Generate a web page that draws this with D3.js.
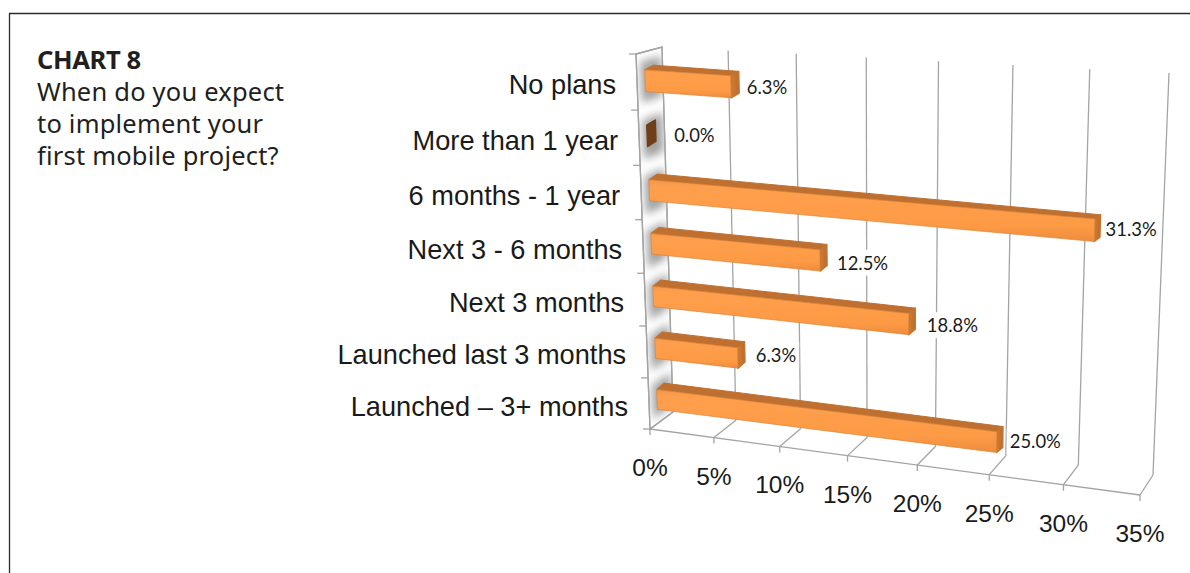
<!DOCTYPE html>
<html>
<head>
<meta charset="utf-8">
<script src="https://cdnjs.cloudflare.com/ajax/libs/d3/7.8.5/d3.min.js"></script>
<style>
  html, body { margin: 0; padding: 0; background: #fff; }
  svg { display: block; }
</style>
</head>
<body>
<svg id="chart" width="1190" height="573"></svg>
<script>
// Survey answers, top row first
const categories = ["No plans", "More than 1 year", "6 months - 1 year", "Next 3 - 6 months",
                    "Next 3 months", "Launched last 3 months", "Launched \u2013 3+ months"];
const shares = [6.3, 0.0, 31.3, 12.5, 18.8, 6.3, 25.0];
const axisTicks = [0, 5, 10, 15, 20, 25, 30, 35];
const titleLines = ["When do you expect", "to implement your", "first mobile project?"];

// Per-label placement beside the bar ends
const labelShift = [[16, 1], [27, 0], [11, 0], [17, 3], [18, 2], [18, -2], [13, 0]];

const valueUnit = d3.scaleLinear().domain([0, 35]).range([0, 1]);
const rowUnit = d3.scaleLinear().domain([0, categories.length]).range([0, 1]);

// Perspective mapping of the unit square onto a quadrilateral [tl, tr, br, bl]
function perspective([p0, p1, p2, p3]) {
  const dx1 = p1[0] - p2[0], dx2 = p3[0] - p2[0], sx = p0[0] - p1[0] + p2[0] - p3[0];
  const dy1 = p1[1] - p2[1], dy2 = p3[1] - p2[1], sy = p0[1] - p1[1] + p2[1] - p3[1];
  const det = dx1 * dy2 - dx2 * dy1;
  const g = (sx * dy2 - dx2 * sy) / det;
  const h = (dx1 * sy - sx * dy1) / det;
  const a = p1[0] - p0[0] + g * p1[0], b = p3[0] - p0[0] + h * p3[0], c = p0[0];
  const d = p1[1] - p0[1] + g * p1[1], e = p3[1] - p0[1] + h * p3[1], f = p0[1];
  return (u, v) => {
    const w = g * u + h * v + 1;
    return [(a * u + b * v + c) / w, (d * u + e * v + f) / w];
  };
}
const plane = corners => {
  const m = perspective(corners);
  return (value, row) => m(valueUnit(value), rowUnit(row));
};

const backPlane  = plane([[662, 47], [1169, 73], [1153, 475], [673, 412]]);
const frontPlane = plane([[636, 54], [1155, 80], [1140, 495], [650, 429]]);
const barFront   = plane([[644, 52.5], [1157, 86.5], [1143, 487.5], [658, 424.5]]);
const barBack    = plane([[653, 48], [1162, 83.5], [1149, 483], [665, 418]]);
const wallPlane  = perspective([[636, 54], [662, 47], [673, 412], [650, 429]]);

const bottomRow = categories.length;
const path = pts => "M" + pts.map(p => p.map(n => n.toFixed(2)).join(",")).join("L") + "Z";

const svg = d3.select("#chart");
const defs = svg.append("defs");

defs.append("filter").attr("id", "wallBlur")
  .attr("x", "-40%").attr("y", "-60%").attr("width", "180%").attr("height", "220%")
  .append("feGaussianBlur").attr("stdDeviation", 4);

const wallOutline = [wallPlane(0, 0), wallPlane(1, 0), wallPlane(1, 1), wallPlane(0, 1)];
defs.append("clipPath").attr("id", "wallClip").append("path").attr("d", path(wallOutline));

const faceGrad = defs.append("linearGradient").attr("id", "faceGrad")
  .attr("x1", 0).attr("y1", 0).attr("x2", 0).attr("y2", 1);
faceGrad.selectAll("stop")
  .data([[0, "#f0974c"], [0.12, "#ff9f4d"], [0.75, "#fd9a45"], [1, "#ee8c3c"]])
  .join("stop").attr("offset", d => d[0]).attr("stop-color", d => d[1]);

const endGrad = defs.append("linearGradient").attr("id", "endGrad")
  .attr("x1", 0).attr("y1", 0).attr("x2", 1).attr("y2", 0);
endGrad.selectAll("stop")
  .data([[0, "#d07c36"], [1, "#bb6c2c"]])
  .join("stop").attr("offset", d => d[0]).attr("stop-color", d => d[1]);

// Panel frame
svg.append("path").attr("d", "M9.5,573V13.5H1190")
  .attr("fill", "none").attr("stroke", "#2b2b2b").attr("stroke-width", 1.3);

// Heading
const heading = svg.append("g").attr("font-family", "'Noto Sans', sans-serif").attr("fill", "#231f20");
heading.append("text").attr("x", 37).attr("y", 69).attr("font-size", 25.6).attr("font-weight", 700)
  .attr("letter-spacing", -0.4).text("CHART 8");
heading.selectAll("text.line").data(titleLines).join("text").attr("class", "line")
  .attr("x", 37).attr("y", (d, i) => 101 + i * 32)
  .attr("font-size", 25.5).attr("letter-spacing", 0.2).text(d => d);

// Value gridlines on the back plane and across the floor
const grid = svg.append("g").attr("fill", "none").attr("stroke", "#a4a4a4").attr("stroke-width", 1.3);
grid.selectAll("path.back").data(axisTicks.slice(1)).join("path").attr("class", "back")
  .attr("d", v => d3.line()([backPlane(v, 0), backPlane(v, bottomRow)]));
grid.selectAll("path.floor").data(axisTicks).join("path").attr("class", "floor")
  .attr("d", v => d3.line()([backPlane(v, bottomRow), frontPlane(v, bottomRow)]));
grid.append("path")
  .attr("d", d3.line()([frontPlane(0, bottomRow), frontPlane(35, bottomRow)]));
grid.selectAll("path.tick").data(axisTicks).join("path").attr("class", "tick")
  .attr("d", v => { const p = frontPlane(v, bottomRow); return d3.line()([p, [p[0], p[1] + 6]]); });

// Category wall with the soft shadows the bars cast on it
svg.append("path").attr("d", path(wallOutline)).attr("fill", "#fff")
  .attr("stroke", "#a4a4a4").attr("stroke-width", 1.3);
const shadows = svg.append("g").attr("clip-path", "url(#wallClip)");
shadows.selectAll("path").data(categories).join("path")
  .attr("d", (d, i) => {
    const top = rowUnit(i + 0.15), bottom = rowUnit(i + 0.85);
    return path([wallPlane(0.15, top), wallPlane(0.95, top), wallPlane(0.95, bottom), wallPlane(0.15, bottom)]);
  })
  .attr("fill", "#a2a2a2").attr("filter", "url(#wallBlur)");
svg.append("path").attr("d", path(wallOutline)).attr("fill", "none")
  .attr("stroke", "#a4a4a4").attr("stroke-width", 1.3);

svg.append("g").attr("fill", "none").attr("stroke", "#a4a4a4").attr("stroke-width", 1.3)
  .selectAll("path").data(d3.range(bottomRow + 1)).join("path")
  .attr("d", i => { const p = frontPlane(0, i); return d3.line()([[p[0] - 7, p[1]], p]); });

// Value labels sit on white plates that break the gridlines
const labels = svg.append("g").attr("font-family", "Lato, sans-serif")
  .attr("font-size", 18.4).attr("fill", "#1a1a1a");
const labelNodes = labels.selectAll("g").data(shares).join("g")
  .attr("transform", (v, i) => {
    const p = barFront(v, i + 0.5), s = labelShift[i];
    return `translate(${p[0] + s[0]},${p[1] + s[1]})`;
  });
labelNodes.append("text").attr("dy", "0.35em").text(v => v.toFixed(1) + "%");
labelNodes.insert("rect", "text").each(function () {
  const b = this.parentNode.querySelector("text").getBBox();
  d3.select(this).attr("x", b.x - 3).attr("y", b.y - 2)
    .attr("width", b.width + 6).attr("height", b.height + 4).attr("fill", "#fff");
});

// Bars: top face, end face, then front face
const bandTop = 0.31, bandBottom = 0.7;
const bars = svg.append("g").attr("stroke-linejoin", "round");
bars.selectAll("g").data(shares).join("g").each(function (v, i) {
  const g = d3.select(this);
  const t = i + bandTop, b = i + bandBottom;
  const empty = v === 0;
  g.append("path")
    .attr("d", path([barFront(0, t), barFront(v, t), barBack(v, t), barBack(0, t)]))
    .attr("fill", empty ? "#6f3f18" : "#bf7030").attr("stroke", empty ? "#6f3f18" : "#bf7030").attr("stroke-width", 1);
  g.append("path")
    .attr("d", path([barFront(v, t), barBack(v, t), barBack(v, b), barFront(v, b)]))
    .attr("fill", empty ? "#6f3f18" : "url(#endGrad)").attr("stroke", empty ? "#6f3f18" : "#c47432").attr("stroke-width", 1.4);
  if (!empty) {
    g.append("path")
      .attr("d", path([barFront(0, t), barFront(v, t), barFront(v, b), barFront(0, b)]))
      .attr("fill", "url(#faceGrad)").attr("stroke", "#d98538").attr("stroke-width", 0.7);
  }
});

// Category names
svg.append("g").attr("font-family", "'Liberation Sans', Arial, sans-serif")
  .attr("font-size", 27.2).attr("fill", "#1a1a1a").attr("text-anchor", "end")
  .selectAll("text").data(categories).join("text")
  .attr("x", (d, i) => frontPlane(0, i + 0.5)[0] - 21)
  .attr("y", (d, i) => frontPlane(0, i + 0.5)[1] + 12)
  .text(d => d);

// Value axis labels
svg.append("g").attr("font-family", "'Liberation Sans', Arial, sans-serif")
  .attr("font-size", 24.5).attr("fill", "#1a1a1a").attr("text-anchor", "middle")
  .selectAll("text").data(axisTicks).join("text")
  .attr("x", v => frontPlane(v, bottomRow)[0])
  .attr("y", v => frontPlane(v, bottomRow)[1] + 47)
  .text(v => v + "%");
</script>
</body>
</html>
